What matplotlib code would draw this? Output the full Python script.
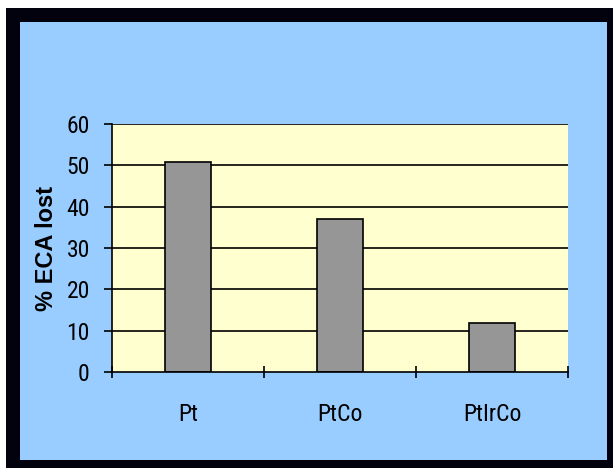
import numpy as np
import matplotlib.pyplot as plt
from matplotlib.patches import Rectangle

catalysts = ["Pt", "PtCo", "PtIrCo"]
eca_lost = [50.7, 36.9, 11.9]
yticks = [0, 10, 20, 30, 40, 50, 60]

W, H = 613, 468
fig = plt.figure(figsize=(W / 100, H / 100), dpi=100)
fig.patch.set_facecolor("#02020e")

# white strip top/left, blue panel inside the black frame
fig.add_artist(Rectangle((0, 1 - 8 / H), 1, 8 / H, transform=fig.transFigure,
                         facecolor="white", edgecolor="none", zorder=0))
fig.add_artist(Rectangle((0, 0), 6 / W, 1, transform=fig.transFigure,
                         facecolor="white", edgecolor="none", zorder=0))
fig.add_artist(Rectangle((20 / W, 1 - 460 / H), (607 - 20) / W, (460 - 22) / H,
                         transform=fig.transFigure, facecolor="#99ccff",
                         edgecolor="none", zorder=0))

ax = fig.add_axes([112 / W, 1 - 372 / H, (568 - 112) / W, (372 - 124) / H])
ax.set_facecolor("#ffffd0")

x = np.arange(len(catalysts)) + 0.5
ax.bar(x, eca_lost, width=0.3, color="#969696", edgecolor="black",
       linewidth=1.2, zorder=3)

tick_font = dict(family=["Roboto Condensed", "Archivo Narrow", "Liberation Sans"], size=17)
ax.set_xlim(0, 3)
ax.set_ylim(0, 60)
ax.set_yticks(yticks)
ax.set_yticklabels([str(v) for v in yticks], **tick_font)
ax.set_xticks([0, 1, 2, 3])
ax.set_xticklabels([])
ax.set_xticks(x, minor=True)
ax.set_xticklabels(catalysts, minor=True, **tick_font)
ax.tick_params(axis="x", which="minor", length=0, pad=22)
ax.tick_params(axis="x", which="major", direction="inout", length=9, width=1.2)
ax.tick_params(axis="y", direction="out", length=6, width=1.2, pad=10)

for v in yticks[1:]:
    ax.axhline(v, color="black", linewidth=1.2, zorder=2)

for s in ["top", "right"]:
    ax.spines[s].set_visible(False)
for s in ["left", "bottom"]:
    ax.spines[s].set_linewidth(1.2)
    ax.spines[s].set_zorder(4)

ax.set_ylabel("% ECA lost", fontfamily="Liberation Sans", fontweight="bold",
              fontsize=17, labelpad=6)

fig.savefig("out.png", dpi=100, facecolor=fig.get_facecolor())
